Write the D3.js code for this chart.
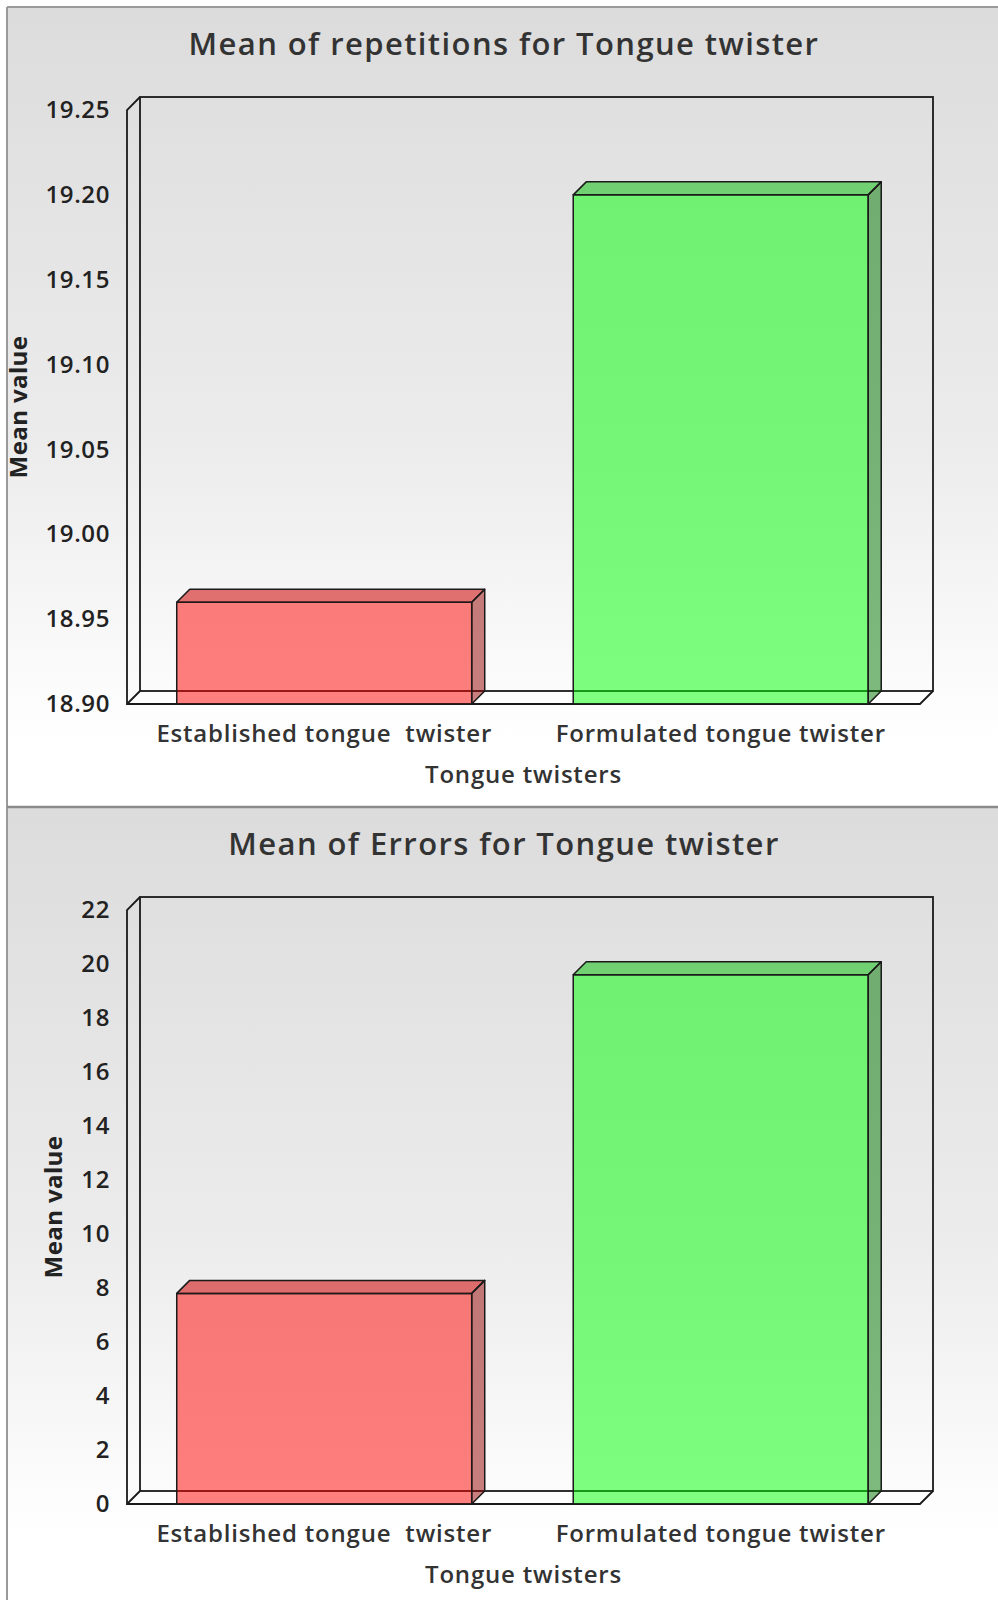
<!DOCTYPE html>
<html>
<head>
<meta charset="utf-8">
<script src="https://cdn.jsdelivr.net/npm/d3@7"></script>
<style>
  html, body { margin: 0; padding: 0; background: #fff; }
  svg { display: block; }
  text { font-family: "Open Sans", "Noto Sans", sans-serif; }
</style>
</head>
<body>
<svg id="chart" width="998" height="1600"></svg>
<script>
// ---------- data ----------
const categories = ["Established tongue  twister", "Formulated tongue twister"];
const repetitionMeans = [18.96, 19.20];
const errorMeans = [7.8, 19.6];
const repetitionTicks = [18.90, 18.95, 19.00, 19.05, 19.10, 19.15, 19.20, 19.25];
const errorTicks = [0, 2, 4, 6, 8, 10, 12, 14, 16, 18, 20, 22];
const titles = ["Mean of repetitions for Tongue twister", "Mean of Errors for Tongue twister"];
const yTitle = "Mean value";
const xTitle = "Tongue twisters";
const barColors = [
  { front: "rgba(255,0,0,0.5)", top: "rgba(205,0,0,0.55)", side: "rgba(150,0,0,0.5)" },
  { front: "rgba(0,255,0,0.5)", top: "rgba(0,190,0,0.5)", side: "rgba(0,120,0,0.5)" }
];

// ---------- layout ----------
const svg = d3.select("#chart");
const W = 998;
const depth = 13;
const panels = [
  { top: 7, height: 800, values: repetitionMeans, ticks: repetitionTicks, fmt: d3.format(".2f"), title: titles[0] },
  { top: 807, height: 793, values: errorMeans, ticks: errorTicks, fmt: d3.format("d"), title: titles[1] }
];

const defs = svg.append("defs");
const grad = defs.append("linearGradient").attr("id", "bg").attr("x1", 0).attr("y1", 0).attr("x2", 0).attr("y2", 1);
grad.append("stop").attr("offset", "0%").attr("stop-color", "#dcdcdc");
grad.append("stop").attr("offset", "55%").attr("stop-color", "#ececec");
grad.append("stop").attr("offset", "92%").attr("stop-color", "#ffffff");
grad.append("stop").attr("offset", "100%").attr("stop-color", "#ffffff");

panels.forEach((p, i) => {
  const off = p.top - 7;
  const g = svg.append("g");
  g.append("rect").attr("x", 7).attr("y", p.top).attr("width", W - 7).attr("height", p.height)
    .attr("fill", "url(#bg)");

  const x0 = 127, x1 = 920;
  const yBottom = 704 + off, yTop = 110 + off;

  const x = d3.scaleBand().domain(categories).range([x0, x1]).paddingInner(0.256).paddingOuter(0.128).align(0.49);
  const y = d3.scaleLinear().domain([p.ticks[0], p.ticks[p.ticks.length - 1]]).range([yBottom, yTop]);

  // title
  g.append("text").attr("x", 504).attr("y", 55 + off).attr("text-anchor", "middle")
    .attr("font-size", 31).attr("font-weight", 600).attr("letter-spacing", 1.4).attr("fill", "#333").text(p.title);

  // floor fill
  g.append("path")
    .attr("d", `M${x0},${yBottom}L${x0 + depth},${yBottom - depth}L${x1 + depth},${yBottom - depth}L${x1},${yBottom}Z`)
    .attr("fill", "#fff").attr("stroke", "none");

  // frame
  const frame = g.append("g").attr("fill", "none").attr("stroke", "#1a1a1a").attr("stroke-width", 1.8);
  frame.append("rect").attr("x", x0 + depth).attr("y", yTop - depth).attr("width", x1 - x0).attr("height", yBottom - yTop);
  frame.append("path").attr("d",
    `M${x0 + depth},${yTop - depth}L${x0},${yTop}L${x0},${yBottom}L${x1},${yBottom}L${x1 + depth},${yBottom - depth}` +
    `M${x0},${yBottom}L${x0 + depth},${yBottom - depth}`);

  // bars
  const bars = g.append("g").attr("stroke", "#1a1a1a").attr("stroke-width", 1.5).attr("stroke-linejoin", "round");
  p.values.forEach((v, k) => {
    const c = categories[k];
    const bx0 = x(c), bx1 = x(c) + x.bandwidth();
    const yt = y(v), yb = y(p.ticks[0]);
    const col = barColors[k];
    bars.append("rect").attr("x", bx0).attr("y", yt).attr("width", bx1 - bx0).attr("height", yb - yt).attr("fill", col.front);
    bars.append("path").attr("d", `M${bx0},${yt}L${bx0 + depth},${yt - depth}L${bx1 + depth},${yt - depth}L${bx1},${yt}Z`).attr("fill", col.top);
    bars.append("path").attr("d", `M${bx1},${yt}L${bx1 + depth},${yt - depth}L${bx1 + depth},${yb - depth}L${bx1},${yb}Z`).attr("fill", col.side);
  });

  // y axis
  const ya = g.append("g").attr("transform", `translate(${x0},0)`)
    .call(d3.axisLeft(y).tickValues(p.ticks).tickFormat(p.fmt).tickSize(0).tickPadding(17));
  ya.select(".domain").remove();
  ya.selectAll("text").attr("font-size", 24).attr("font-weight", 600).attr("letter-spacing", 0.6).attr("fill", "#222")
    .style("font-family", "'Open Sans', sans-serif");
  let minX = Infinity;
  ya.selectAll("text").each(function () { const b = this.getBBox(); minX = Math.min(minX, x0 + b.x); });

  // x axis labels
  const xa = g.append("g").attr("transform", `translate(0,${yBottom})`)
    .call(d3.axisBottom(x).tickSize(0).tickPadding(0));
  xa.select(".domain").remove();
  xa.selectAll("text").attr("y", 38).attr("dy", null).attr("font-size", 24).attr("font-weight", 600)
    .attr("letter-spacing", 0.8)
    .attr("fill", "#333").style("white-space", "pre").style("font-family", "'Open Sans', sans-serif");

  // axis titles
  g.append("text").attr("x", (x0 + x1) / 2).attr("y", yBottom + 79).attr("text-anchor", "middle")
    .attr("font-size", 24).attr("font-weight", 600).attr("letter-spacing", 0.8).attr("fill", "#333").text(xTitle);
  g.append("text").attr("transform", `translate(${minX - 19},${(yTop + yBottom) / 2}) rotate(-90)`)
    .attr("text-anchor", "middle").attr("font-size", 24).attr("font-weight", 700).attr("letter-spacing", 0.4)
    .attr("fill", "#222").text(yTitle);
});

// borders
svg.append("line").attr("x1", 7).attr("x2", W).attr("y1", 7).attr("y2", 7).attr("stroke", "#9a9a9a").attr("stroke-width", 2);
svg.append("line").attr("x1", 7).attr("x2", 7).attr("y1", 7).attr("y2", 1600).attr("stroke", "#9a9a9a").attr("stroke-width", 2);
svg.append("line").attr("x1", 7).attr("x2", W).attr("y1", 807).attr("y2", 807).attr("stroke", "#8a8a8a").attr("stroke-width", 2.5);
</script>
</body>
</html>
